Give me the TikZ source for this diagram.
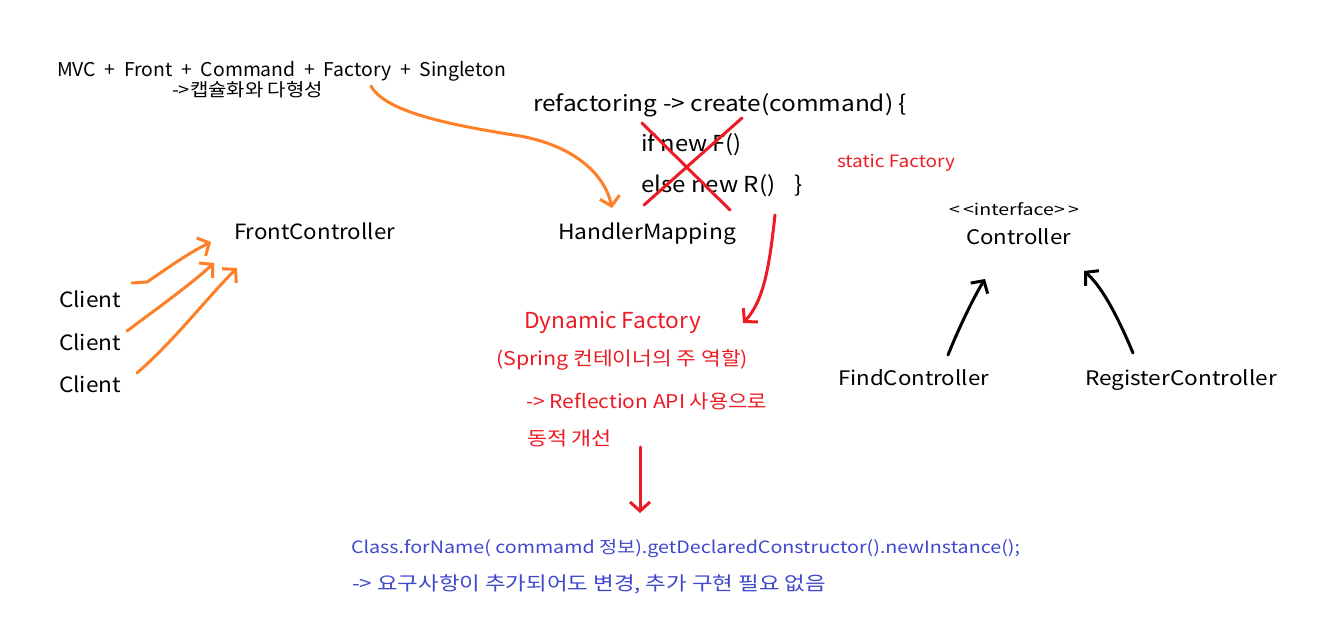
\documentclass[tikz,border=0pt]{standalone}
\usepackage{fontspec}
\usepackage{graphicx}
\setmainfont{Noto Sans CJK KR}
\usetikzlibrary{arrows.meta}
\definecolor{porange}{HTML}{FF7F27}
\definecolor{pred}{HTML}{ED1C24}
\definecolor{pblue}{HTML}{3F48CC}
\newcommand\fs[1]{\fontsize{#1}{#1}\selectfont}
\newcommand\fw[2]{\resizebox{#1pt}{\height}{#2}}
\newcommand\pl{\hspace{0.45em}+\hspace{0.45em}}
\tikzset{
  txt/.style={anchor=base west, inner sep=0pt, outer sep=0pt},
  hand/.style={line width=3pt, line cap=round, line join=round, -{Straight Barb[length=9pt,width=20pt,line width=3pt]}},
  orangearrow/.style={hand, draw=porange},
  redarrow/.style={hand, draw=pred},
  blackarrow/.style={hand, draw=black},
  cross/.style={line width=3pt, draw=pred, line cap=round}
}
\begin{document}
\begin{tikzpicture}[x=1pt,y=-1pt]
\fill[white] (0,0) rectangle (1323,639);
\useasboundingbox (0,0) rectangle (1323,639);

% texts
\node[txt, font=\fs{19}] (mvc) at (57,77) {\fw{449}{MVC\pl Front\pl Command\pl Factory\pl Singleton}};
\node[txt, font=\fs{18}] (caps) at (172,97) {\fw{151}{->캡슐화와 다형성}};
\node[txt, font=\fs{22}] (refac) at (533,112) {\fw{374}{refactoring -> create(command) \{}};
\node[txt, font=\fs{22}] (iff) at (641,152) {\fw{101}{if new F()}};
\node[txt, font=\fs{22}] (elsr) at (641,193) {\fw{162}{else new R()\hspace{18pt}\}}};
\node[txt, font=\fs{17}, text=pred] (static) at (837,168) {\fw{118}{static Factory}};
\node[txt, font=\fs{21}] (front) at (234,240) {\fw{161}{FrontController}};
\node[txt, font=\fs{21}] (hm) at (558,240) {\fw{178}{HandlerMapping}};
\node[txt, font=\fs{16}] (iface) at (949,215) {\fw{130}{<\,<interface>\,>}};
\node[txt, font=\fs{20}] (ctrl) at (966,245) {\fw{105}{Controller}};
\node[txt, font=\fs{21}] (cl1) at (59,308) {\fw{62}{Client}};
\node[txt, font=\fs{21}] (cl2) at (59,350) {\fw{62}{Client}};
\node[txt, font=\fs{21}] (cl3) at (59,392) {\fw{62}{Client}};
\node[txt, font=\fs{22}, text=pred] (dyn) at (524,328) {\fw{177}{Dynamic Factory}};
\node[txt, font=\fs{19}, text=pred] (spring) at (496,365) {\fw{252}{(Spring 컨테이너의 주 역할)}};
\node[txt, font=\fs{19}, text=pred] (refl) at (526,408) {\fw{241}{-> Reflection API 사용으로}};
\node[txt, font=\fs{19}, text=pred] (dong) at (527,445) {\fw{85}{동적 개선}};
\node[txt, font=\fs{20}] (find) at (838,385) {\fw{151}{FindController}};
\node[txt, font=\fs{20}] (reg) at (1085,385) {\fw{192}{RegisterController}};
\node[txt, font=\fs{17}, text=pblue] (cls) at (351,553) {\fw{669}{Class.forName( commamd 정보).getDeclaredConstructor().newInstance();}};
\node[txt, font=\fs{19}, text=pblue] (req) at (352,590) {\fw{474}{-> 요구사항이 추가되어도 변경, 추가 구현 필요 없음}};

% coordinates
\coordinate (oS) at (371,86);
\coordinate (oE) at (612,208);
\coordinate (c1S) at (132,283);
\coordinate (c1E) at (211,242);
\coordinate (c2S) at (127,331);
\coordinate (c2E) at (214,263);
\coordinate (c3S) at (137,373);
\coordinate (c3E) at (237,268);
\coordinate (x1a) at (642,123);
\coordinate (x1b) at (730,210);
\coordinate (x2a) at (742,118);
\coordinate (x2b) at (644,205);
\coordinate (rS) at (775,215);
\coordinate (rE) at (743,323);
\coordinate (vS) at (640,447);
\coordinate (vE) at (640,513);
\coordinate (fS) at (948,355);
\coordinate (fE) at (985,279);
\coordinate (gS) at (1133,353);
\coordinate (gE) at (1084,271);

% orange arrows
\draw[orangearrow] (oS) .. controls (385,112) and (450,125) .. (520,136) .. controls (575,146) and (605,175) .. (oE);
\draw[orangearrow] (c1S) -- (147,282) .. controls (165,270) and (185,255) .. (c1E);
\draw[orangearrow] (c2S) .. controls (155,310) and (190,285) .. (c2E);
\draw[orangearrow] (c3S) .. controls (175,340) and (205,300) .. (c3E);

% red cross
\draw[cross] (x1a) -- (x1b);
\draw[cross] (x2a) -- (x2b);

% red arrows
\draw[redarrow] (rS) .. controls (770,260) and (765,300) .. (rE);
\draw[redarrow] (vS) -- (vE);

% black arrows
\draw[blackarrow] (fS) .. controls (960,325) and (975,295) .. (fE);
\draw[blackarrow] (gS) .. controls (1115,310) and (1100,285) .. (gE);
\end{tikzpicture}
\end{document}
